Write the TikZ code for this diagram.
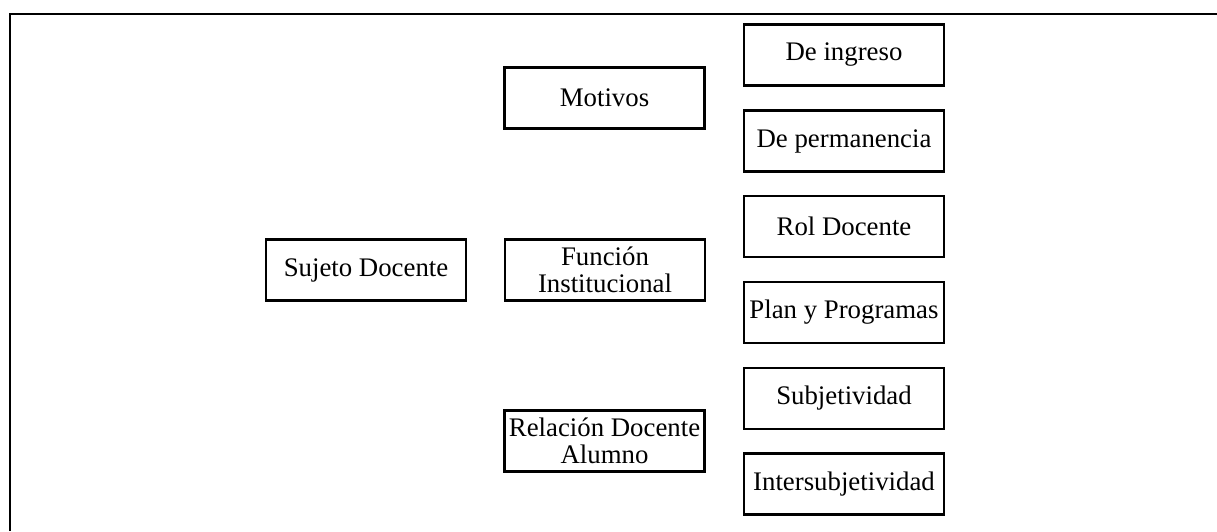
\documentclass[tikz,border=0pt]{standalone}
\usepackage{fontspec}
\setmainfont{Liberation Serif}
\usepackage{tikz}

\begin{document}
\begin{tikzpicture}[x = 0.5pt, y = -0.5pt,
    caja/.style = {draw, line width = 1.2pt, minimum width = 100pt, minimum height = 30.5pt,
                   inner sep = 1pt, align = center, font = \fontsize{13.4}{13.2}\selectfont}]
    \useasboundingbox (0, 0) rectangle (1217, 531);

    % marco
    \draw[line width = 1pt] (10, 531) -- (10, 14) -- (1217, 14);

    % primer nivel
    \node[caja] (sujeto) at (366, 270) {Sujeto Docente};

    % segundo nivel
    \node[caja] (motivos) at (604.5, 98) {Motivos};
    \node[caja] (funcion) at (605, 270) {Funci\'on\\Institucional};
    \node[caja] (relacion) at (604.5, 441) {Relaci\'on Docente\\Alumno};

    % tercer nivel
    \node[caja] (ingreso) at (844, 55) {De ingreso};
    \node[caja] (permanencia) at (844, 141) {De permanencia};
    \node[caja] (rol) at (844, 226.5) {Rol Docente};
    \node[caja] (plan) at (844, 312.5) {Plan y Programas};
    \node[caja] (subjetividad) at (844, 398.5) {Subjetividad};
    \node[caja] (intersub) at (844, 484) {Intersubjetividad};
\end{tikzpicture}
\end{document}
